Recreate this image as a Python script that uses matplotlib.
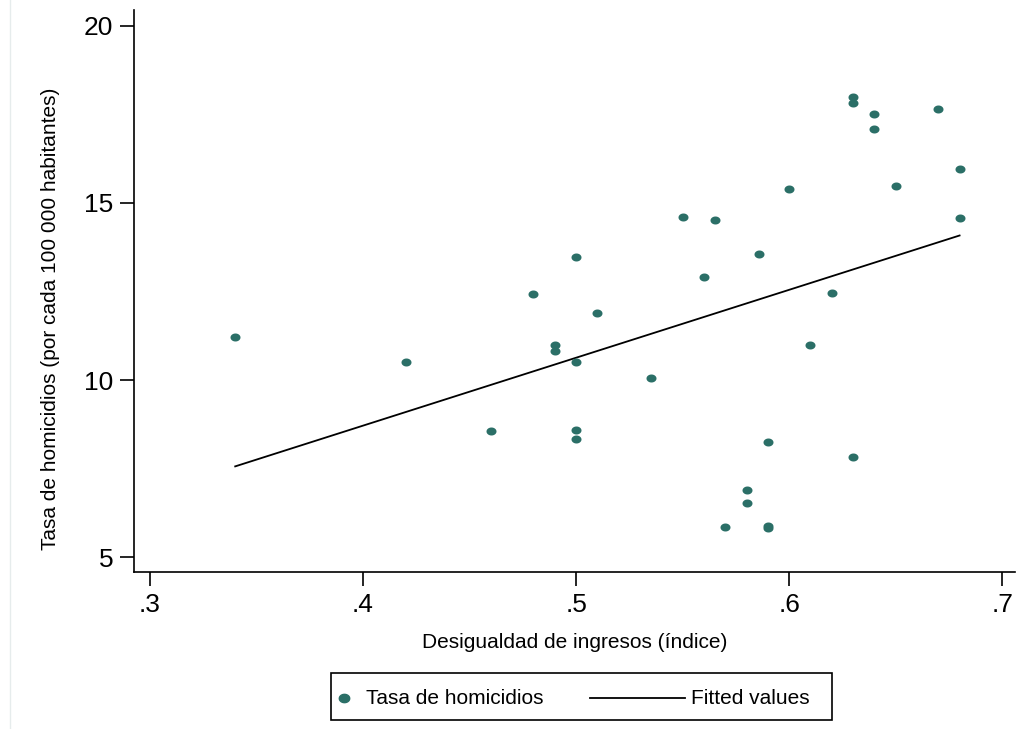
"""plot.py
scatter of homicide rate vs income inequality with fitted line
"""
import numpy as np
import matplotlib
matplotlib.use('Agg')
import matplotlib.pyplot as plt
from matplotlib.lines import Line2D
from matplotlib.patches import Rectangle
from matplotlib.path import Path

# desigualdad de ingresos (indice)
desigualdad = [0.34, 0.42, 0.46, 0.48, 0.49, 0.49, 0.50, 0.50, 0.50, 0.50,
               0.51, 0.535, 0.55, 0.56, 0.565, 0.57, 0.58, 0.58, 0.586, 0.59,
               0.59, 0.59, 0.60, 0.61, 0.62, 0.63, 0.63, 0.63, 0.64, 0.64,
               0.65, 0.67, 0.68, 0.68]
# tasa de homicidios (por cada 100 000 habitantes)
homicidios = [11.21, 10.51, 8.56, 12.43, 10.99, 10.82, 13.47, 10.51, 8.59, 8.33,
              11.89, 10.06, 14.60, 12.91, 14.52, 5.85, 6.89, 6.53, 13.56, 8.25,
              5.87, 5.82, 15.40, 10.99, 12.46, 17.99, 17.82, 7.82, 17.51, 17.09,
              15.48, 17.66, 15.96, 14.58]

x_ticks = [0.3, 0.4, 0.5, 0.6, 0.7]
x_ticklabels = ['.3', '.4', '.5', '.6', '.7']
y_ticks = [5, 10, 15, 20]
legend_labels = ['Tasa de homicidios', 'Fitted values']

DOT = '#2b6f67'
W, H = 1034, 729


def px(x, y):
    ''' pixel position (from top left) to figure fraction '''
    return x / W, 1 - y / H


def main():
    plt.rcParams['font.family'] = ['Liberation Sans', 'DejaVu Sans']
    x = np.asarray(desigualdad)
    y = np.asarray(homicidios)
    b, a = np.polyfit(x, y, 1)
    xf = np.array([x.min(), x.max()])
    yf = a + b * xf

    # slightly flat dots, like the reference
    t = np.linspace(0, 2 * np.pi, 40)
    ellipse = Path(np.column_stack([np.cos(t), 0.8 * np.sin(t)]), closed=True)

    fig = plt.figure(figsize=(W / 100, H / 100), dpi=100)
    ax = fig.add_axes([0.1296, 0.2154, 0.852, 0.771])
    ax.scatter(x, y, s=52, marker=ellipse, color=DOT, linewidths=0, zorder=3)
    ax.plot(xf, yf, color='black', lw=1.3, zorder=2)

    ax.set_xlim(0.2925, 0.706)
    ax.set_ylim(4.58, 20.45)
    ax.set_xticks(x_ticks)
    ax.set_xticklabels(x_ticklabels)
    ax.set_yticks(y_ticks)
    for s in ['top', 'right']:
        ax.spines[s].set_visible(False)
    for s in ['left', 'bottom']:
        ax.spines[s].set_linewidth(1.2)
    ax.tick_params(axis='both', direction='out', length=10, width=1.2,
                   labelsize=19, pad=5)
    ax.set_xlabel('Desigualdad de ingresos (índice)', fontsize=15)
    ax.set_ylabel('Tasa de homicidios (por cada 100 000 habitantes)',
                  fontsize=15)
    ax.xaxis.set_label_coords(0.5, -0.108)
    ax.yaxis.set_label_coords(-0.084, 0.45)

    # legend box drawn by hand (marker and line handles differ in width)
    x0, y0 = px(331, 720)
    x1, y1 = px(832, 673)
    fig.add_artist(Rectangle((x0, y0), x1 - x0, y1 - y0, fill=False,
                             edgecolor='black', lw=1.2,
                             transform=fig.transFigure))
    mx, my = px(344, 698)
    fig.add_artist(Line2D([mx], [my], marker=ellipse, markersize=7.5,
                          color=DOT, ls='none', transform=fig.transFigure))
    tx, ty = px(366, 698)
    fig.text(tx, ty, legend_labels[0], fontsize=15, ha='left', va='center')
    lx0, ly = px(590, 698)
    lx1, _ = px(685, 698)
    fig.add_artist(Line2D([lx0, lx1], [ly, ly], color='black', lw=1.3,
                          transform=fig.transFigure))
    tx2, _ = px(691, 698)
    fig.text(tx2, ty, legend_labels[1], fontsize=15, ha='left', va='center')

    # faint border line at left edge
    fig.add_artist(Line2D([0.0097, 0.0097], [0.0, 1.0], color='#e6ecec',
                          lw=1, transform=fig.transFigure))

    fig.savefig('out.png', dpi=100)


if __name__ == "__main__":
    main()
